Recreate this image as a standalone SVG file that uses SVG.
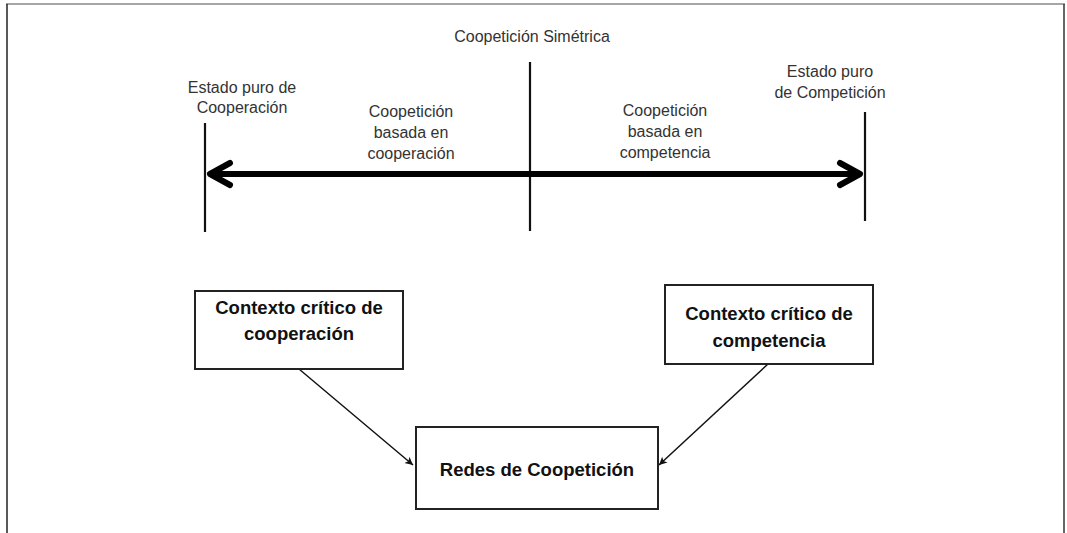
<svg xmlns="http://www.w3.org/2000/svg" width="1067" height="533" viewBox="0 0 1067 533">
<defs>
<style>
.lbl{font-family:"Liberation Sans",Arial,sans-serif;font-size:16px;fill:#333;text-anchor:middle}
.box{fill:#fff;stroke:#222;stroke-width:2}
.btx{font-family:"Liberation Sans",Arial,sans-serif;font-size:18.5px;font-weight:bold;fill:#111;text-anchor:middle}
.tick{stroke:#111;stroke-width:2.2}
.con{stroke:#111;stroke-width:1.5;fill:none}
.head{stroke:#000;stroke-width:6;fill:none;stroke-linecap:round;stroke-linejoin:round}
</style>
<marker id="ah" markerWidth="10" markerHeight="10" refX="8" refY="4" orient="auto" markerUnits="userSpaceOnUse">
<path d="M0,0 L8,4 L0,8 L2,4 z" fill="#111"/>
</marker>
</defs>
<rect width="1067" height="533" fill="#fff"/>
<g id="frame">
<line x1="6" y1="4" x2="1065" y2="4" stroke="#888" stroke-width="1.5"/>
<line x1="7" y1="4" x2="7" y2="533" stroke="#222" stroke-width="1.5"/>
<line x1="1064" y1="4" x2="1064" y2="533" stroke="#333" stroke-width="1.5"/>
</g>
<g id="scale">
<line class="tick" x1="205" y1="123" x2="205" y2="232"/>
<line class="tick" x1="530" y1="62" x2="530" y2="231"/>
<line class="tick" x1="865" y1="112" x2="865" y2="221"/>
<line x1="210" y1="174" x2="860" y2="174" stroke="#000" stroke-width="6"/>
<polyline class="head" points="230,163 210,174 230,185"/>
<polyline class="head" points="840,163 860,174 840,185"/>
</g>
<g id="labels">
<text class="lbl" x="532" y="42">Coopetición Simétrica</text>
<text class="lbl" x="242" y="93">Estado puro de</text>
<text class="lbl" x="242" y="113">Cooperación</text>
<text class="lbl" x="411" y="117">Coopetición</text>
<text class="lbl" x="411" y="138">basada en</text>
<text class="lbl" x="411" y="159">cooperación</text>
<text class="lbl" x="830" y="77">Estado puro</text>
<text class="lbl" x="830" y="98">de Competición</text>
<text class="lbl" x="665" y="116">Coopetición</text>
<text class="lbl" x="665" y="137">basada en</text>
<text class="lbl" x="665" y="158">competencia</text>
</g>
<g id="connectors">
<line class="con" x1="299" y1="369" x2="413" y2="465" marker-end="url(#ah)"/>
<line class="con" x1="768" y1="364" x2="659" y2="465" marker-end="url(#ah)"/>
</g>
<g id="node-cooperacion">
<rect class="box" x="195" y="291" width="208" height="78"/>
<text class="btx" x="299" y="314">Contexto crítico de</text>
<text class="btx" x="299" y="340">cooperación</text>
</g>
<g id="node-competencia">
<rect class="box" x="665" y="285" width="208" height="79"/>
<text class="btx" x="769" y="320">Contexto crítico de</text>
<text class="btx" x="769" y="347">competencia</text>
</g>
<g id="node-redes">
<rect class="box" x="416" y="427" width="242" height="82"/>
<text class="btx" x="537" y="476">Redes de Coopetición</text>
</g>
</svg>
